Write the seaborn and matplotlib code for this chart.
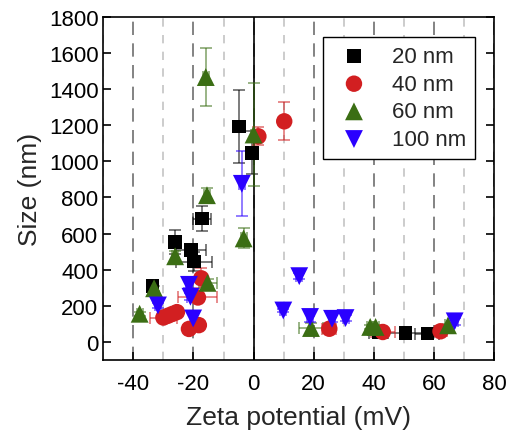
import pandas as pd
import numpy as np
import matplotlib
matplotlib.use("Agg")
import matplotlib.pyplot as plt
from matplotlib.ticker import MultipleLocator
import seaborn as sns

# 20 nm
zeta_20 = [-33.7, -26.1, -20.8, -19.8, -17.2, -4.8, -0.5, 41.5, 50.6, 57.8]
size_20 = [309, 554, 509, 445, 683, 1192, 1047, 52, 50, 46]
zerr_20 = [1, 2, 5, 6, 3, 1, 1, 3, 6, 4]
serr_20 = [20, 65, 35, 55, 70, 200, 120, 15, 10, 10]

# 40 nm
zeta_40 = [-30.0, -28.5, -27.0, -25.5, -21.5, -18.2, -18.5, -17.4, 1.6, 10.2, 25.2, 43.0, 62.2]
size_40 = [135, 145, 155, 165, 72, 93, 246, 352, 1138, 1221, 73, 55, 59]
zerr_40 = [4.5, 1, 1, 1, 1, 1, 6.5, 1, 1, 1, 2.3, 4, 2]
serr_40 = [10, 10, 10, 10, 10, 10, 20, 55, 50, 105, 15, 10, 10]

# 60 nm
zeta_60 = [-37.9, -33.1, -26.1, -15.9, -15.5, -15.3, -3.3, 0.0, 19.1, 38.8, 40.6, 64.7]
size_60 = [156, 297, 474, 1466, 812, 327, 573, 1148, 77, 83, 83, 92]
zerr_60 = [1, 1, 1, 1, 1, 3, 1, 1, 4, 1, 1, 1]
serr_60 = [10, 15, 30, 160, 40, 20, 55, 285, 30, 10, 10, 10]

# 100 nm
zeta_100 = [-31.8, -21.5, -21.0, -20.1, -3.9, 9.9, 15.2, 18.8, 26.1, 30.6, 66.9]
size_100 = [202, 316, 250, 130, 875, 174, 364, 138, 128, 132, 114]
zerr_100 = [1, 1, 1, 1, 1, 1, 1, 1, 1, 1, 1]
serr_100 = [15, 20, 20, 30, 180, 10, 15, 25, 20, 15, 20]

labels = ["20 nm", "40 nm", "60 nm", "100 nm"]
colors = ["#000000", "#d21f21", "#3b6e14", "#2a00ff"]
markers = ["s", "o", "^", "v"]
msizes = [95, 140, 165, 165]

series = [
    (zeta_20, size_20, zerr_20, serr_20),
    (zeta_40, size_40, zerr_40, serr_40),
    (zeta_60, size_60, zerr_60, serr_60),
    (zeta_100, size_100, zerr_100, serr_100),
]

frames = []
for lab, (zx, sy, zx_err, sy_err) in zip(labels, series):
    frames.append(pd.DataFrame({"zeta": zx, "size": sy, "zerr": zx_err,
                                "serr": sy_err, "particle": lab}))
df = pd.concat(frames, ignore_index=True)

sns.set_style("ticks")
plt.rcParams["font.family"] = ["Liberation Sans", "DejaVu Sans"]
plt.rcParams["axes.unicode_minus"] = False

fig = plt.figure(figsize=(5.07, 4.31), dpi=100)
ax = fig.add_axes([0.2037, 0.1624, 0.7707, 0.7965])

# vertical guide lines
ax.xaxis.set_major_locator(MultipleLocator(20))
ax.xaxis.set_minor_locator(MultipleLocator(10))
ax.grid(which="major", axis="x", color="#6e6e6e", linestyle=(0, (8, 5)), linewidth=1.2)
ax.grid(which="minor", axis="x", color="#c4c4c4", linestyle=(0, (5, 5)), linewidth=1.2)
ax.axvline(0, color="black", linewidth=1.2, zorder=1.5)

for lab, col, mk, ms in zip(labels, colors, markers, msizes):
    d = df[df["particle"] == lab]
    ax.errorbar(d["zeta"], d["size"], xerr=d["zerr"], yerr=d["serr"], fmt="none",
                ecolor=col, alpha=0.6, elinewidth=1.2, capsize=4, capthick=1.2, zorder=2)
    sns.scatterplot(data=d, x="zeta", y="size", color=col, marker=mk, s=ms,
                    edgecolor="none", linewidth=0, ax=ax, zorder=3, label=lab)

ax.set_xlim(-50, 80)
ax.set_ylim(-100, 1800)
ax.set_yticks(np.arange(0, 1801, 200))
ax.tick_params(axis="both", which="major", direction="in", labelsize=16, length=6,
               width=1.2, right=True, top=False, colors="black")
ax.tick_params(axis="x", which="minor", length=0)
ax.tick_params(axis="x", pad=9)
for sp in ax.spines.values():
    sp.set_linewidth(1.2)
    sp.set_color("black")

ax.set_xlabel("Zeta potential (mV)", fontsize=19, labelpad=8)
ax.set_ylabel("Size (nm)", fontsize=19, labelpad=5)

leg = ax.legend(loc="upper right", bbox_to_anchor=(0.951, 0.941), fontsize=16,
                frameon=True, fancybox=False, edgecolor="black", framealpha=1,
                handletextpad=0.7, borderpad=0.4, labelspacing=0.3, markerscale=1.0,
                borderaxespad=0)
leg.get_frame().set_linewidth(1.0)

fig.savefig("out.png", dpi=100)
